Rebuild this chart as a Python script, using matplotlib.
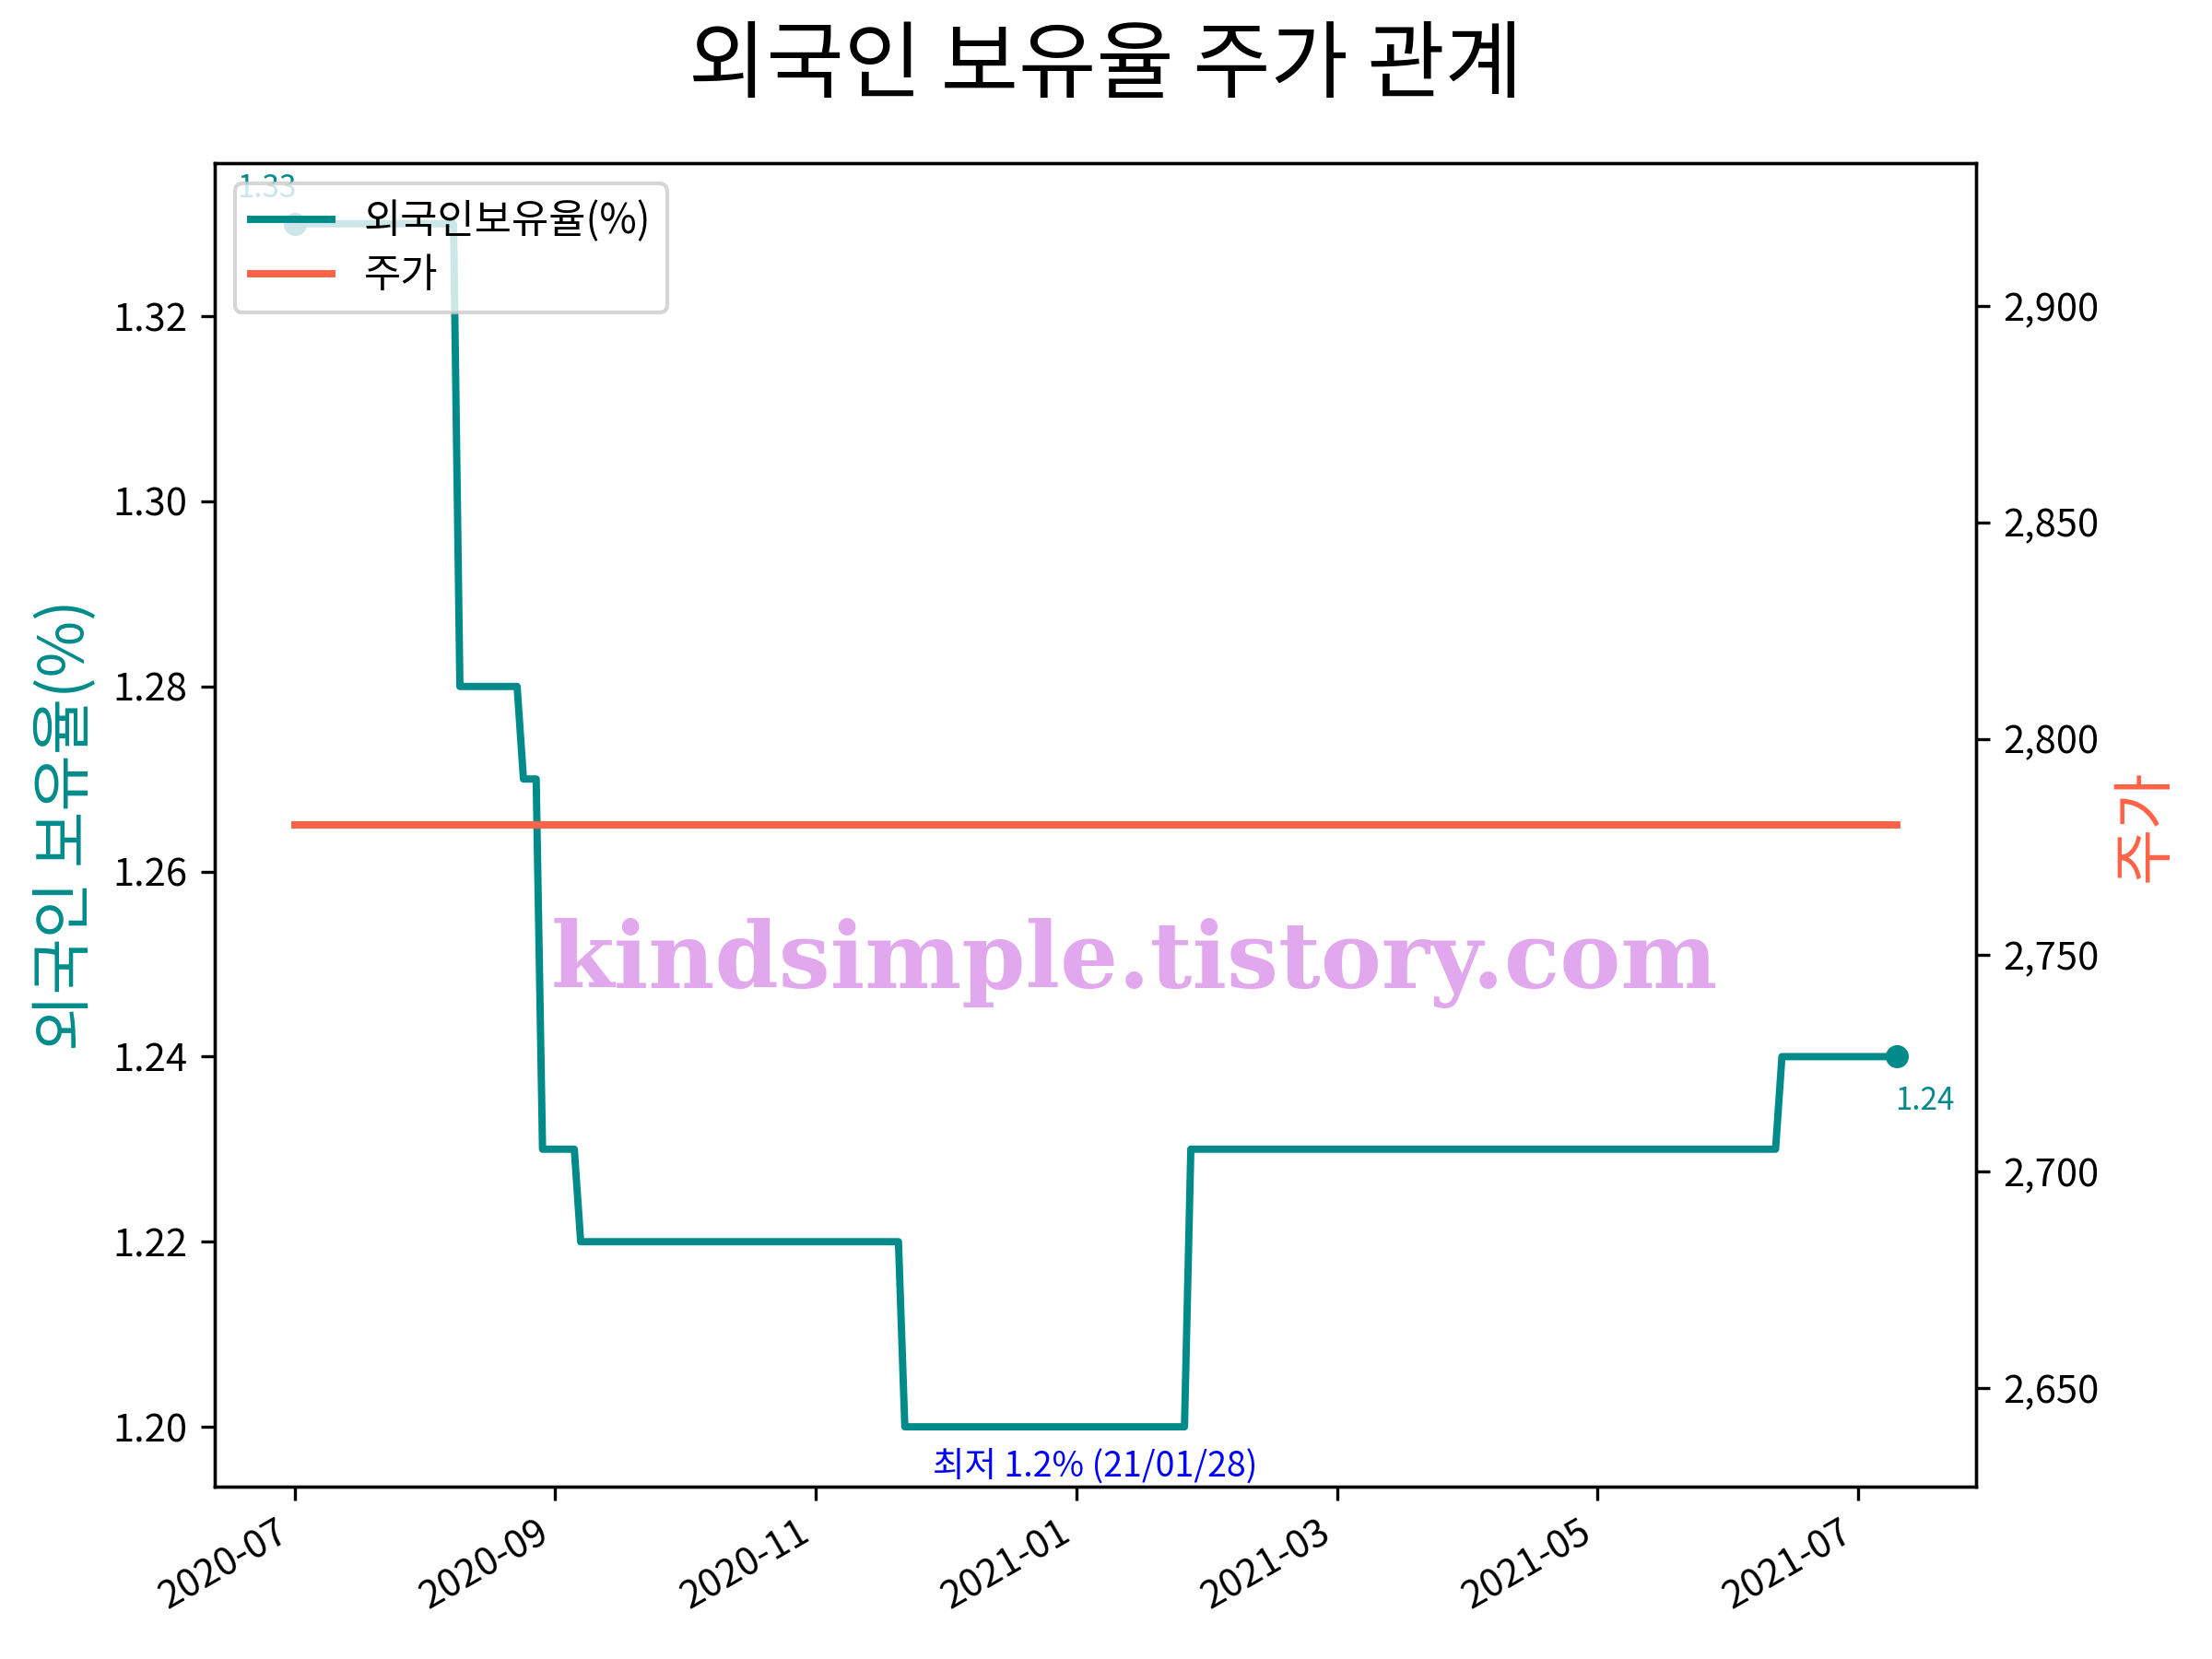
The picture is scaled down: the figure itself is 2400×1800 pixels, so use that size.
import matplotlib
matplotlib.use("Agg")
import matplotlib.pyplot as plt
from matplotlib.ticker import FuncFormatter

plt.rcParams['font.family'] = ['Noto Sans CJK KR', 'DejaVu Sans']
plt.rcParams['axes.unicode_minus'] = False

# ---- data (x = trading-day index) ----
hold_idx = [0, 25, 26, 35, 36, 38, 39, 44, 45, 95, 96, 140, 141, 233, 234, 252]
hold_pct = [1.33, 1.33, 1.28, 1.28, 1.27, 1.27, 1.23, 1.23, 1.22, 1.22, 1.20, 1.20,
            1.23, 1.23, 1.24, 1.24]
price_idx = [0, 252]
price_val = [2780, 2780]

tick_idx = [0, 41, 82, 123, 164, 205, 246]
tick_labels = ['2020-07', '2020-09', '2020-11', '2021-01', '2021-03', '2021-05', '2021-07']

min_label_idx = 126
min_label = '최저 1.2% (21/01/28)'

teal = '#008B8A'
tomato = '#FF6347'

fig, ax1 = plt.subplots(figsize=(8, 6), dpi=300)
fig.subplots_adjust(left=0.097, right=0.8935, top=0.9014, bottom=0.1037)

l1, = ax1.plot(hold_idx, hold_pct, color=teal, lw=1.9, label='외국인보유율(%)')
ax1.plot([hold_idx[0]], [hold_pct[0]], 'o', color=teal, ms=5)
ax1.plot([hold_idx[-1]], [hold_pct[-1]], 'o', color=teal, ms=5)

ax1.annotate(f'{hold_pct[0]:.2f}', xy=(hold_idx[0], hold_pct[0]), xytext=(-7.3, 7),
             textcoords='offset points', ha='center', va='baseline', fontsize=8, color=teal)
ax1.annotate(f'{hold_pct[-1]:.2f}', xy=(hold_idx[-1], hold_pct[-1]), xytext=(7.4, -13.7),
             textcoords='offset points', ha='center', va='baseline', fontsize=8, color=teal)
ax1.annotate(min_label, xy=(min_label_idx, min(hold_pct)), xytext=(0, -13),
             textcoords='offset points', ha='center', va='baseline', fontsize=9, color='blue')

ax1.set_ylabel('외국인 보유율(%)', color=teal, fontsize=16)
ax1.set_xticks(tick_idx)
ax1.set_xticklabels(tick_labels, rotation=30, ha='right')

ax2 = ax1.twinx()
l2, = ax2.plot(price_idx, price_val, color=tomato, lw=1.9, label='주가')
ax2.set_ylabel('주가', color=tomato, fontsize=16)
ax2.yaxis.set_major_formatter(FuncFormatter(lambda v, p: f'{v:,.0f}'))

ax2.legend([l1, l2], [l1.get_label(), l2.get_label()], loc='upper left',
           fontsize=10.5, labelspacing=0.3)

ax2.text(0.522, 0.396, 'kindsimple.tistory.com', transform=ax2.transAxes,
         ha='center', va='center', fontsize=23.8, fontweight='bold',
         family='DejaVu Serif', color='#E2A8EE')

fig.suptitle('외국인 보유율 주가 관계', fontsize=22, y=0.9595, va='center')

fig.savefig('out.png', dpi=300)
